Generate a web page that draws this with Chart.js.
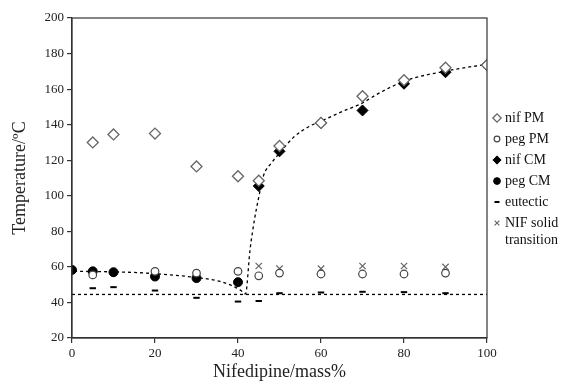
<!DOCTYPE html>
<html>
<head>
<meta charset="utf-8">
<script src="https://cdn.jsdelivr.net/npm/chart.js@4.4.1/dist/chart.umd.min.js"></script>
<style>
  html, body { margin: 0; padding: 0; background: #fff; }
  #wrap { width: 567px; height: 383px; position: relative; }
</style>
</head>
<body>
<div id="wrap"><canvas id="chart" width="567" height="383"></canvas></div>
<script>
// data
const nifPmX = [5, 10, 20, 30, 40, 45, 50, 60, 70, 80, 90, 100];
const nifPmY = [130, 134.5, 135, 116.5, 111, 108.5, 128, 141, 156, 165, 172, 173.5];

const pegPmX = [5, 20, 30, 40, 45, 50, 60, 70, 80, 90];
const pegPmY = [55.5, 57.5, 56.5, 57.5, 55, 56.5, 56, 56, 56, 56.5];

const nifCmX = [45, 50, 60, 70, 80, 90, 100];
const nifCmY = [105.5, 125, 141, 148, 163, 169.5, 173.5];

const pegCmX = [0, 5, 10, 20, 30, 40];
const pegCmY = [58.3, 57.5, 57, 54.6, 53.7, 51.4];

const eutecticX = [5, 10, 20, 30, 40, 45, 50, 60, 70, 80, 90];
const eutecticY = [48, 48.6, 46.7, 42.6, 40.5, 40.8, 45.2, 45.6, 46, 45.8, 45.2];

const solidX = [45, 50, 60, 70, 80, 90];
const solidY = [60.5, 59, 59, 60.5, 60.5, 60];

// dashed guide lines
const eutecticLineX = [0, 100];
const eutecticLineY = [44.5, 44.5];
const liquidusX = [0.5, 10, 15.6, 21, 30, 35.7, 40.5, 41.8, 42.9, 44.1, 44.9, 46.1, 48.1, 50.1, 53.3, 57.3, 60.6, 65.4, 69.4, 74.2, 80.2, 90.4, 100];
const liquidusY = [57.5, 57.2, 56.8, 56, 54, 51.8, 47.1, 44.8, 69.6, 88.4, 98, 111, 118.6, 124.2, 132.7, 139.2, 142.6, 147.7, 151.5, 158, 164.6, 170.3, 174];

const xTicks = [0, 20, 40, 60, 80, 100];
const yTicks = [20, 40, 60, 80, 100, 120, 140, 160, 180, 200];

function pts(xs, ys) {
    return xs.map((x, i) => ({ x: x, y: ys[i] }));
}

const FONT = "'Liberation Serif', 'Times New Roman', serif";

const series = [
    { label: 'nif PM', data: pts(nifPmX, nifPmY), pointStyle: 'rectRot', radius: 5.5, fill: '#fff', stroke: '#666', bw: 1.3 },
    { label: 'peg PM', data: pts(pegPmX, pegPmY), pointStyle: 'circle', radius: 3.8, fill: '#fff', stroke: '#444', bw: 1.2 },
    { label: 'nif CM', data: pts(nifCmX, nifCmY), pointStyle: 'rectRot', radius: 5.5, fill: '#000', stroke: '#000', bw: 1 },
    { label: 'peg CM', data: pts(pegCmX, pegCmY), pointStyle: 'circle', radius: 4.5, fill: '#000', stroke: '#000', bw: 1 },
    { label: 'eutectic', data: pts(eutecticX, eutecticY), pointStyle: 'line', radius: 3.2, fill: '#000', stroke: '#000', bw: 2 },
    { label: ['NIF solid', 'transition'], data: pts(solidX, solidY), pointStyle: 'crossRot', radius: 4.5, fill: '#666', stroke: '#666', bw: 1.2 }
];

const datasets = [
    {
        label: 'eutectic line', data: pts(eutecticLineX, eutecticLineY), showLine: true,
        borderColor: '#000', borderWidth: 1.3, borderDash: [3, 3], pointRadius: 0, order: 10
    },
    {
        label: 'liquidus', data: pts(liquidusX, liquidusY), showLine: true,
        borderColor: '#000', borderWidth: 1.3, borderDash: [3, 3], pointRadius: 0,
        cubicInterpolationMode: 'monotone', order: 10
    }
];
series.forEach(s => {
    datasets.push({
        label: Array.isArray(s.label) ? s.label.join(' ') : s.label,
        data: s.data,
        showLine: false,
        pointStyle: s.pointStyle,
        pointRadius: s.radius,
        pointBackgroundColor: s.fill,
        pointBorderColor: s.stroke,
        pointBorderWidth: s.bw,
        order: 1
    });
});

// box around the plot area
const frame = {
    id: 'frame',
    afterDraw(chart) {
        const a = chart.chartArea, ctx = chart.ctx;
        ctx.save();
        ctx.strokeStyle = '#333';
        ctx.lineWidth = 1.2;
        ctx.strokeRect(a.left, a.top, a.right - a.left, a.bottom - a.top);
        ctx.restore();
    }
};

// legend on the right, drawn by hand for the two-line label
const sideLegend = {
    id: 'sideLegend',
    afterDraw(chart) {
        const ctx = chart.ctx;
        const mx = 497, tx = 505;
        const rows = [118, 139, 160, 181, 202, 223];
        ctx.save();
        ctx.font = '14px ' + FONT;
        ctx.textBaseline = 'middle';
        series.forEach((s, i) => {
            const y = rows[i];
            ctx.fillStyle = s.fill;
            ctx.strokeStyle = s.stroke;
            ctx.lineWidth = s.bw;
            const r = s.pointStyle === 'line' ? 2.5 : s.radius * 0.75;
            Chart.helpers.drawPoint(ctx, { pointStyle: s.pointStyle, radius: r, borderWidth: s.bw }, mx, y);
            ctx.fillStyle = '#111';
            const lines = Array.isArray(s.label) ? s.label : [s.label];
            lines.forEach((t, j) => ctx.fillText(t, tx, y + j * 17));
        });
        ctx.restore();
    }
};

new Chart(document.getElementById('chart'), {
    type: 'scatter',
    data: { datasets: datasets },
    options: {
        responsive: false,
        animation: false,
        layout: { padding: { top: 18, right: 80, bottom: 0, left: 0 } },
        plugins: { legend: { display: false }, tooltip: { enabled: false } },
        scales: {
            x: {
                type: 'linear', min: 0, max: 100,
                afterFit: s => { s.height = 45; },
                afterBuildTicks: s => { s.ticks = xTicks.map(v => ({ value: v })); },
                grid: { drawOnChartArea: false, tickLength: 5, color: '#333', lineWidth: 1.2 },
                border: { display: true, color: '#333', width: 1.2 },
                ticks: { color: '#222', font: { family: FONT, size: 13 }, padding: 3, maxRotation: 0 },
                title: { display: true, text: 'Nifedipine/mass%', color: '#222', font: { family: FONT, size: 18 }, padding: { top: 0, bottom: 0 } }
            },
            y: {
                type: 'linear', min: 20, max: 200,
                afterFit: s => { s.width = 72; },
                afterBuildTicks: s => { s.ticks = yTicks.map(v => ({ value: v })); },
                grid: { drawOnChartArea: false, tickLength: 5, color: '#333', lineWidth: 1.2 },
                border: { display: true, color: '#333', width: 1.2 },
                ticks: { color: '#222', font: { family: FONT, size: 13 }, padding: 3 },
                title: { display: true, text: 'Temperature/ºC', color: '#222', font: { family: FONT, size: 18 }, padding: { top: 9, bottom: 4 } }
            }
        }
    },
    plugins: [frame, sideLegend]
});
</script>
</body>
</html>
